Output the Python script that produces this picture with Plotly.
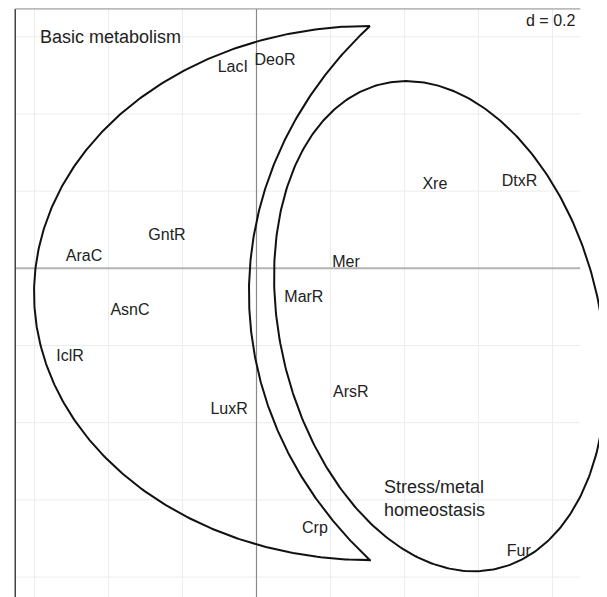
import numpy as np
import plotly.graph_objects as go

# ---------------- data ----------------
genes = ["LacI", "DeoR", "GntR", "AraC", "AsnC", "IclR", "Mer", "MarR",
         "ArsR", "LuxR", "Crp", "Fur", "Xre", "DtxR"]
gene_x = [-0.064, 0.050, -0.242, -0.466, -0.342, -0.504, 0.242, 0.128,
          0.255, -0.074, 0.158, 0.709, 0.482, 0.711]
gene_y = [0.518, 0.537, 0.085, 0.030, -0.110, -0.230, 0.014, -0.077,
          -0.323, -0.367, -0.675, -0.735, 0.216, 0.224]

group_labels = ["Basic metabolism", "Stress/metal<br>homeostasis"]
group_x = [-0.395, 0.339]
group_y = [0.600, -0.597]

grid_step = 0.2
grid_x = [-0.6, -0.4, -0.2, 0.2, 0.4, 0.6, 0.8]
grid_y = [0.6, 0.4, 0.2, -0.2, -0.4, -0.6, -0.8]

# crescent ("Basic metabolism"): outer half-ellipse + inner ellipse arc
cres_outer = dict(cx=0.3068, cy=-0.064, ax=0.908, by=0.692)
cres_inner = dict(cx=1.1986, cy=-0.064, ax=1.219, by=1.015)
# ellipse ("Stress/metal homeostasis")
ell = dict(cx=0.496, cy=-0.150, a=0.647, b=0.431, theta_deg=14.9)

# ---------------- layout constants ----------------
# page body has an 8px margin: axis ranges start 8px in
W, H = 607, 597
XR = [-0.6716, 0.9689]
YR = [-0.8723, 0.6744]
FRAME_L, FRAME_R, FRAME_T, FRAME_B = -0.652, 0.875, 0.672, -0.88
FONT = "Liberation Sans, Arial, Helvetica, sans-serif"

fig = go.Figure()

# grid lines
gx, gy = [], []
for v in grid_x:
    gx += [v, v, None]
    gy += [FRAME_T, FRAME_B, None]
for v in grid_y:
    gx += [FRAME_L, FRAME_R, None]
    gy += [v, v, None]
fig.add_trace(go.Scatter(x=gx, y=gy, mode="lines",
                         line=dict(color="#ececec", width=1),
                         hoverinfo="skip", showlegend=False))

# axes through origin
fig.add_trace(go.Scatter(x=[FRAME_L, FRAME_R], y=[0, 0], mode="lines",
                         line=dict(color="#b4b4b4", width=2),
                         hoverinfo="skip", showlegend=False))
fig.add_trace(go.Scatter(x=[0, 0], y=[FRAME_T, FRAME_B], mode="lines",
                         line=dict(color="#8a8a8a", width=1.2),
                         hoverinfo="skip", showlegend=False))

# frame (left dark, top gray)
fig.add_trace(go.Scatter(x=[FRAME_L, FRAME_L], y=[FRAME_T, FRAME_B], mode="lines",
                         line=dict(color="#444444", width=1.5),
                         hoverinfo="skip", showlegend=False))
fig.add_trace(go.Scatter(x=[FRAME_L, FRAME_R], y=[FRAME_T, FRAME_T], mode="lines",
                         line=dict(color="#8a8a8a", width=1),
                         hoverinfo="skip", showlegend=False))

# crescent
t = np.linspace(np.pi / 2, 3 * np.pi / 2, 300)
ox = cres_outer["cx"] + cres_outer["ax"] * np.cos(t)
oy = cres_outer["cy"] + cres_outer["by"] * np.sin(t)
phi0 = np.arccos((cres_outer["cx"] - cres_inner["cx"]) / cres_inner["ax"])
s = np.linspace(2 * np.pi - phi0, phi0, 300)
ix = cres_inner["cx"] + cres_inner["ax"] * np.cos(s)
iy = cres_inner["cy"] + cres_inner["by"] * np.sin(s)
cx_all = np.concatenate([ox, ix, ox[:1]])
cy_all = np.concatenate([oy, iy, oy[:1]])
fig.add_trace(go.Scatter(x=cx_all, y=cy_all, mode="lines",
                         line=dict(color="#111111", width=2),
                         hoverinfo="skip", showlegend=False))

# ellipse
th = np.deg2rad(ell["theta_deg"])
u = np.linspace(0, 2 * np.pi, 400)
ex = ell["cx"] + ell["a"] * np.cos(u) * (-np.sin(th)) + ell["b"] * np.sin(u) * np.cos(th)
ey = ell["cy"] + ell["a"] * np.cos(u) * np.cos(th) + ell["b"] * np.sin(u) * np.sin(th)
fig.add_trace(go.Scatter(x=ex, y=ey, mode="lines",
                         line=dict(color="#111111", width=2),
                         hoverinfo="skip", showlegend=False))

# gene labels
fig.add_trace(go.Scatter(x=gene_x, y=gene_y, mode="text", text=genes,
                         textposition="middle center",
                         textfont=dict(size=16, color="#222222", family=FONT),
                         cliponaxis=False, hoverinfo="skip", showlegend=False))

# group labels
fig.add_annotation(x=group_x[0], y=group_y[0], text=group_labels[0],
                   showarrow=False, xanchor="center", yanchor="middle",
                   font=dict(size=18, color="#222222", family=FONT))
fig.add_annotation(x=group_x[1], y=group_y[1], text=group_labels[1],
                   showarrow=False, xanchor="left", yanchor="middle", align="left",
                   font=dict(size=18, color="#222222", family=FONT))

# scale label
fig.add_annotation(x=0.866, y=0.641, text="d = %g" % grid_step,
                   showarrow=False, xanchor="right", yanchor="middle",
                   font=dict(size=16, color="#222222", family=FONT))

fig.update_layout(
    width=W, height=H,
    margin=dict(l=0, r=0, t=0, b=0),
    paper_bgcolor="white", plot_bgcolor="white",
    xaxis=dict(range=XR, visible=False, showgrid=False, zeroline=False, fixedrange=True),
    yaxis=dict(range=YR, visible=False, showgrid=False, zeroline=False, fixedrange=True),
    showlegend=False,
)

fig.write_html("out.html")
